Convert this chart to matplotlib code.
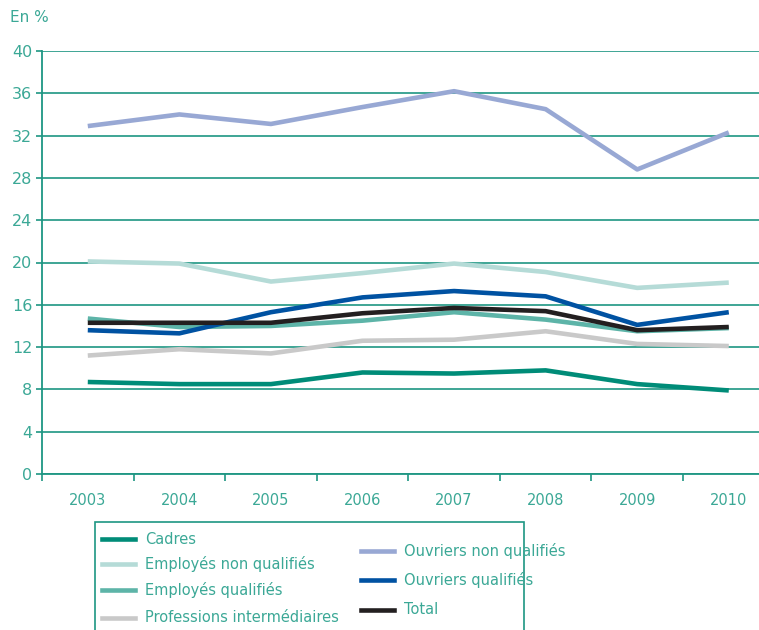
import numpy as np
import matplotlib.pyplot as plt
from matplotlib.lines import Line2D
from matplotlib.patches import Rectangle

plt.rcParams['font.family'] = ['Liberation Sans Narrow', 'DejaVu Sans']

# Données
annees = ['2003', '2004', '2005', '2006', '2007', '2008', '2009', '2010']
cadres = [8.7, 8.5, 8.5, 9.6, 9.5, 9.8, 8.5, 7.9]
employes_nq = [20.1, 19.9, 18.2, 19.0, 19.9, 19.1, 17.6, 18.1]
employes_q = [14.7, 13.9, 14.0, 14.5, 15.3, 14.6, 13.5, 13.8]
prof_inter = [11.2, 11.8, 11.4, 12.6, 12.7, 13.5, 12.3, 12.1]
ouvriers_nq = [32.9, 34.0, 33.1, 34.7, 36.2, 34.5, 28.8, 32.3]
ouvriers_q = [13.6, 13.3, 15.3, 16.7, 17.3, 16.8, 14.1, 15.3]
total = [14.3, 14.3, 14.3, 15.2, 15.7, 15.4, 13.6, 13.9]

noms = ['Cadres', 'Employés non qualifiés', 'Employés qualifiés',
        'Professions intermédiaires', 'Ouvriers non qualifiés',
        'Ouvriers qualifiés', 'Total']
series = [cadres, employes_nq, employes_q, prof_inter, ouvriers_nq, ouvriers_q, total]
couleurs = ['#008C78', '#B5DBD7', '#5DB4A8', '#C9C9C9', '#98A8D4', '#0052A2', '#231F20']

teal = '#1E9683'
texte = '#3BA896'

fig = plt.figure(figsize=(7.59, 6.3), dpi=100)
ax = fig.add_axes([42 / 759, 1 - 474 / 630, 1 - 42 / 759, 423 / 630])

x = np.arange(len(annees))
for i in [4, 1, 2, 3, 5, 6, 0]:
    ax.plot(x, series[i], color=couleurs[i], lw=3.3, zorder=3, solid_capstyle='butt')

ax.set_ylim(0, 40)
ax.set_xlim(-0.5, 7.33)
ax.set_yticks(np.arange(0, 41, 4))
ax.yaxis.grid(True, color=teal, lw=1.2)
ax.set_axisbelow(True)

ax.set_xticks(x - 0.5, minor=False)
ax.set_xticklabels([])
ax.set_xticks(x, minor=True)
ax.set_xticklabels(annees, minor=True)
ax.tick_params(axis='x', which='major', direction='out', length=5, color=teal, width=1.2)
ax.tick_params(axis='x', which='minor', length=0, pad=14, labelsize=10.5, labelcolor=texte)
ax.tick_params(axis='y', direction='out', length=4, color=teal, width=1.2,
               labelsize=11.5, labelcolor=texte, pad=3)

for s in ['top', 'right']:
    ax.spines[s].set_visible(False)
for s in ['left', 'bottom']:
    ax.spines[s].set_color(teal)
    ax.spines[s].set_linewidth(1.3)

fig.text(10 / 759, 1 - 17 / 630, 'En %', color=texte, fontsize=11, va='center')

# Légende
fig.add_artist(Rectangle((95 / 759, -0.05), 429 / 759, 1 - 522 / 630 + 0.05,
                         transform=fig.transFigure, fill=False, ec=teal, lw=1.2))
col1_y = [539, 564, 590, 618]
col2_y = [551, 580, 610]
positions = [(102, y) for y in col1_y] + [(361, y) for y in col2_y]
for (px, py), nom, c in zip(positions, noms, couleurs):
    fy = 1 - py / 630
    fig.add_artist(Line2D([px / 759, (px + 33) / 759], [fy, fy], color=c, lw=3.3,
                          transform=fig.transFigure))
    fig.text((px + 43) / 759, fy, nom, color=texte, fontsize=10.5, va='center')

fig.savefig('out.png', dpi=100)
